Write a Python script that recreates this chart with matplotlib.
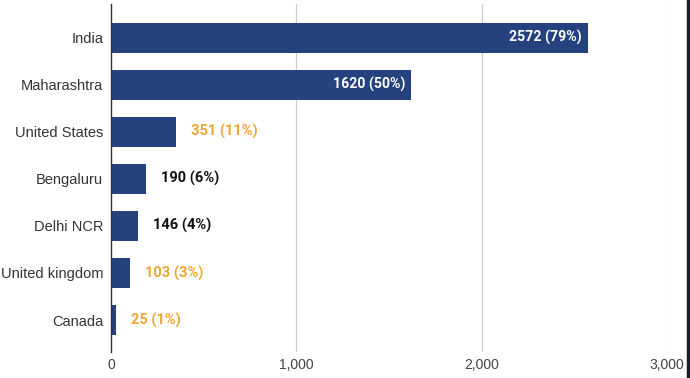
import matplotlib.pyplot as plt
from matplotlib.lines import Line2D
from matplotlib.ticker import FuncFormatter

regions = ["India", "Maharashtra", "United States", "Bengaluru",
           "Delhi NCR", "United kingdom", "Canada"]
counts = [2572, 1620, 351, 190, 146, 103, 25]
shares = [79, 50, 11, 6, 4, 3, 1]
label_colors = ["white", "white", "#f1a534", "#111111", "#111111", "#f1a534", "#f1a534"]

bar_color = "#25427f"

fig = plt.figure(figsize=(6.9, 3.78), dpi=100)
ax = fig.add_axes([111 / 690, 1 - 352 / 378, (667 - 111) / 690, 348 / 378])

ypos = list(range(len(regions)))
ax.barh(ypos, counts, height=0.64, color=bar_color, zorder=3)

for y, c, s, col in zip(ypos, counts, shares, label_colors):
    txt = f"{c} ({s}%)"
    if col == "white":
        ax.annotate(txt, (c, y), xytext=(-4, 0), textcoords="offset points",
                    ha="right", va="center", color=col, fontsize=10.2,
                    fontweight="bold", family="Roboto", zorder=4)
    else:
        ax.annotate(txt, (c, y), xytext=(11, 0), textcoords="offset points",
                    ha="left", va="center", color=col, fontsize=10.5,
                    fontweight="bold", family="Roboto", zorder=4)

ax.set_xlim(0, 3000)
ax.set_ylim(6.68, -0.72)
ax.set_yticks(ypos)
ax.set_yticklabels(regions, fontsize=10.5, color="#333333", family="Liberation Sans")
ax.set_xticks([0, 1000, 2000, 3000])
ax.xaxis.set_major_formatter(FuncFormatter(lambda v, p: f"{int(v):,}"))
ax.tick_params(axis="x", labelsize=10, colors="#444444", length=0, pad=4)
ax.tick_params(axis="y", length=0, pad=5.5)
for lab in ax.get_xticklabels():
    lab.set_family("Liberation Sans")

ax.grid(axis="x", color="#cccccc", linewidth=0.9, zorder=0)
ax.xaxis.get_gridlines()[0].set_visible(False)
for side in ["top", "right", "bottom"]:
    ax.spines[side].set_visible(False)
ax.spines["left"].set_color("#333333")
ax.spines["left"].set_linewidth(1.0)
ax.spines["left"].set_zorder(5)

# dark frame edge on the right of the screenshot
fig.add_artist(Line2D([688 / 690, 688 / 690], [0, 1], color="#1a1f2b", linewidth=2.5))

fig.savefig("out.png", dpi=100)
